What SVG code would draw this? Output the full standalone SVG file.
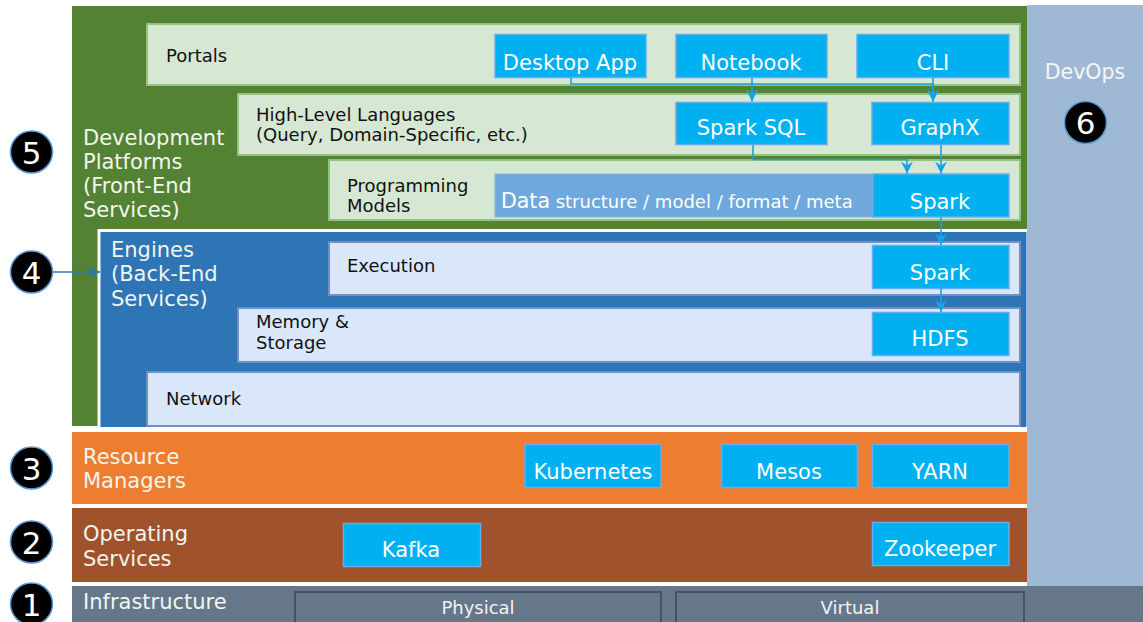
<svg xmlns="http://www.w3.org/2000/svg" width="1143" height="622" viewBox="0 0 1143 622">
<defs>
<style>
text{font-family:"DejaVu Sans",Verdana,sans-serif}
.lay{font-size:21px;fill:#f2f6ee}
.sub{font-size:18px;fill:#111}
.cy{fill:#00b0f0;stroke:#62aef0;stroke-width:1.5}
.cyt{font-size:21px;fill:#fff;text-anchor:middle}
.lg{fill:#d6e7d3;stroke:#93c47d;stroke-width:2}
.lb{fill:#dae7fa;stroke:#7090c4;stroke-width:2}
.num{fill:#000;stroke:#5b9bd5;stroke-width:1.5}
.numt{font-size:31px;fill:#fff;text-anchor:middle}
.con{fill:none;stroke:#16a4e6;stroke-width:1.6}
.inf{fill:#667789;stroke:#3f5469;stroke-width:2}
</style>
<marker id="ah" viewBox="0 0 12 12" refX="12" refY="6" markerWidth="12" markerHeight="12" markerUnits="userSpaceOnUse" orient="auto">
<path d="M0,0 L12,6 L0,12 L4,6 z" fill="#16a4e6"/>
</marker>
<marker id="ah2" viewBox="0 0 12 12" refX="12" refY="6" markerWidth="12" markerHeight="12" markerUnits="userSpaceOnUse" orient="auto">
<path d="M0,0 L12,6 L0,12 L4,6 z" fill="#2e75b6"/>
</marker>
</defs>
<rect width="1143" height="622" fill="#fff"/>

<g id="dev-platforms">
<rect x="72" y="6" width="955" height="420" fill="#548235"/>
<text class="lay"><tspan x="83" y="145">Development</tspan><tspan x="83" y="169">Platforms</tspan><tspan x="83" y="193">(Front-End</tspan><tspan x="83" y="217">Services)</tspan></text>
</g>

<g id="portals">
<rect class="lg" x="147" y="24" width="873" height="61"/>
<text class="sub" x="166" y="62">Portals</text>
</g>
<g id="high-level">
<rect class="lg" x="238" y="94" width="782" height="61"/>
<text class="sub"><tspan x="256" y="121">High-Level Languages</tspan><tspan x="256" y="141">(Query, Domain-Specific, etc.)</tspan></text>
</g>
<g id="prog-models">
<rect class="lg" x="329" y="160" width="691" height="60"/>
<text class="sub"><tspan x="347" y="192">Programming</tspan><tspan x="347" y="212">Models</tspan></text>
</g>

<g id="engines">
<rect x="99" y="230.5" width="929" height="198" fill="#2e75b6" stroke="#fff" stroke-width="3"/>
<text class="lay" fill="#fff"><tspan x="111" y="257">Engines</tspan><tspan x="111" y="281">(Back-End</tspan><tspan x="111" y="306">Services)</tspan></text>
</g>
<g id="execution">
<rect class="lb" x="329" y="242" width="691" height="53"/>
<text class="sub" x="347" y="272">Execution</text>
</g>
<g id="memory">
<rect class="lb" x="238" y="308" width="782" height="54"/>
<text class="sub"><tspan x="256" y="328">Memory &amp;</tspan><tspan x="256" y="349">Storage</tspan></text>
</g>
<g id="network">
<rect class="lb" x="147" y="372" width="873" height="54"/>
<text class="sub" x="166" y="405">Network</text>
</g>

<g id="devops">
<rect x="1027" y="5" width="116" height="581" fill="#9fb8d4"/>
<text x="1085" y="79" font-size="20.5" fill="#f4f7fb" text-anchor="middle">DevOps</text>
</g>

<g id="resource-managers">
<rect x="72" y="432" width="955" height="72" fill="#ed7d31"/>
<text class="lay"><tspan x="83" y="464">Resource</tspan><tspan x="83" y="488">Managers</tspan></text>
</g>
<g id="operating-services">
<rect x="72" y="508" width="955" height="74" fill="#a0522d"/>
<text class="lay"><tspan x="83" y="541">Operating</tspan><tspan x="83" y="566">Services</tspan></text>
</g>
<g id="infrastructure">
<rect x="72" y="586" width="1071" height="36" fill="#667789"/>
<text class="lay" x="83" y="609">Infrastructure</text>
</g>
<g id="physical">
<rect class="inf" x="295" y="592" width="366" height="34"/>
<text x="478" y="614" font-size="18" fill="#f2f4f6" text-anchor="middle">Physical</text>
</g>
<g id="virtual">
<rect class="inf" x="676" y="592" width="348" height="34"/>
<text x="850" y="614" font-size="18" fill="#f2f4f6" text-anchor="middle">Virtual</text>
</g>

<g id="desktop-app"><rect class="cy" x="495" y="34.5" width="151" height="43"/><text class="cyt" x="570" y="70">Desktop App</text></g>
<g id="notebook"><rect class="cy" x="676" y="34.5" width="151" height="43"/><text class="cyt" x="751" y="70">Notebook</text></g>
<g id="cli"><rect class="cy" x="857" y="34.5" width="152" height="43"/><text class="cyt" x="933" y="70">CLI</text></g>
<g id="spark-sql"><rect class="cy" x="676" y="102.5" width="151" height="42"/><text class="cyt" x="751" y="135">Spark SQL</text></g>
<g id="graphx"><rect class="cy" x="872" y="102.5" width="137" height="42"/><text class="cyt" x="940" y="135">GraphX</text></g>
<g id="data"><rect x="495" y="174" width="378" height="43" fill="#6fa8dc" stroke="#85b5e3" stroke-width="1"/>
<text x="501" y="208" fill="#fff" font-size="20.5">Data<tspan font-size="18"> structure / model / format / meta</tspan></text></g>
<g id="spark-prog"><rect class="cy" x="873" y="174" width="136" height="43"/><text class="cyt" x="940" y="209">Spark</text></g>
<g id="spark-exec"><rect class="cy" x="872.5" y="245.5" width="136.5" height="43"/><text class="cyt" x="940" y="280">Spark</text></g>
<g id="hdfs"><rect class="cy" x="872.5" y="312.5" width="136.5" height="43"/><text class="cyt" x="940" y="346">HDFS</text></g>
<g id="kubernetes"><rect class="cy" x="525" y="444.5" width="136" height="43"/><text class="cyt" x="593" y="479">Kubernetes</text></g>
<g id="mesos"><rect class="cy" x="721.5" y="444.5" width="136" height="43"/><text class="cyt" x="789" y="479">Mesos</text></g>
<g id="yarn"><rect class="cy" x="872.5" y="444.5" width="136.5" height="43"/><text class="cyt" x="940" y="479">YARN</text></g>
<g id="kafka"><rect class="cy" x="343.5" y="523.5" width="137" height="43"/><text class="cyt" x="411" y="557">Kafka</text></g>
<g id="zookeeper"><rect class="cy" x="872.5" y="522.5" width="136.5" height="43"/><text class="cyt" x="940" y="556">Zookeeper</text></g>

<g id="connectors">
<path class="con" d="M571,78 V84 H933 V101.5" marker-end="url(#ah)"/>
<path class="con" d="M933,78 V101.5" marker-end="url(#ah)"/>
<path class="con" d="M752,78 V101.5" marker-end="url(#ah)"/>
<path class="con" d="M753,145 V159.5 H907 V173.5" marker-end="url(#ah)"/>
<path class="con" d="M941,145 V173.5" marker-end="url(#ah)"/>
<path class="con" d="M941,217 V245" marker-end="url(#ah)"/>
<path class="con" d="M941,288.5 V312" marker-end="url(#ah)"/>
<path fill="none" stroke="#2e75b6" stroke-width="1.4" d="M53,272 H100" marker-end="url(#ah2)"/>
</g>

<g id="badge-5"><circle class="num" cx="31.5" cy="152" r="21"/><text class="numt" x="31.5" y="163.5">5</text></g>
<g id="badge-4"><circle class="num" cx="31.5" cy="272" r="21"/><text class="numt" x="31.5" y="283.5">4</text></g>
<g id="badge-3"><circle class="num" cx="31.5" cy="468" r="21"/><text class="numt" x="31.5" y="479.5">3</text></g>
<g id="badge-2"><circle class="num" cx="31.5" cy="542" r="21"/><text class="numt" x="31.5" y="553.5">2</text></g>
<g id="badge-1"><circle class="num" cx="31.5" cy="604" r="21"/><text class="numt" x="31.5" y="615.5">1</text></g>
<g id="badge-6"><circle class="num" cx="1085.5" cy="122.5" r="21"/><text class="numt" x="1085.5" y="134">6</text></g>
</svg>
